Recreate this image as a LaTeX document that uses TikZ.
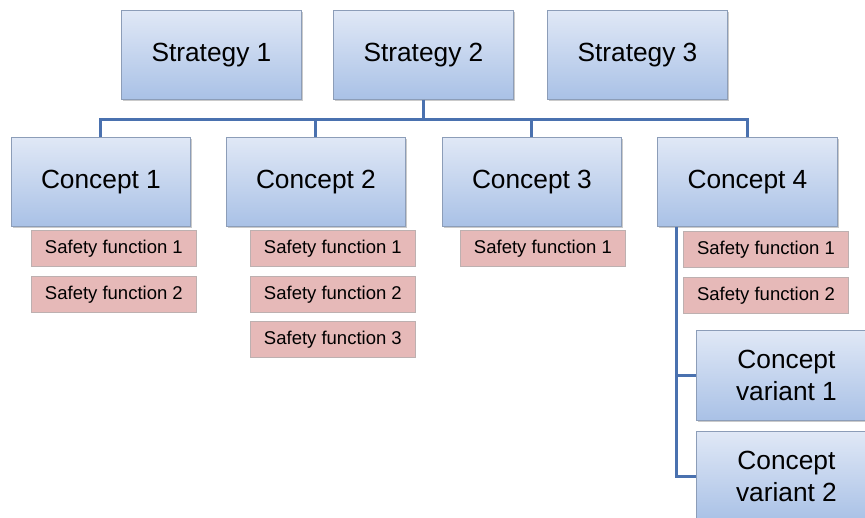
\documentclass[tikz,border=0pt]{standalone}
\usepackage{fontspec}
\setmainfont{Liberation Sans}
\usetikzlibrary{shadows}
\definecolor{boxtop}{HTML}{E0E8F6}
\definecolor{boxbot}{HTML}{A9C1E6}
\definecolor{boxedge}{HTML}{8C9DB8}
\definecolor{sffill}{HTML}{E6B9B8}
\definecolor{sfedge}{HTML}{BDB0B0}
\definecolor{linkblue}{HTML}{4A71AF}
\tikzset{
  bluebox/.style={draw=boxedge, line width=0.9pt, top color=boxtop, bottom color=boxbot,
    minimum width=180pt, minimum height=89pt, inner sep=0pt, anchor=north west,
    font=\fontsize{26.3}{32.5}\selectfont, align=center,
    drop shadow={shadow xshift=2pt, shadow yshift=-2pt, opacity=0.35, fill=black!60}},
  sfbox/.style={draw=sfedge, line width=0.8pt, fill=sffill,
    minimum width=165pt, minimum height=36pt, inner sep=0pt, anchor=north west,
    font=\fontsize{18.5}{21}\selectfont},
  link/.style={draw=linkblue, line width=3pt}
}
\begin{document}
\begin{tikzpicture}[x=1pt,y=-1pt]
\useasboundingbox (0,0) rectangle (865,517);
\clip (0,0) rectangle (865,517);

% strategies
\node[bluebox] (s1) at (121,10) {Strategy 1};
\node[bluebox] (s2) at (333,10) {Strategy 2};
\node[bluebox] (s3) at (547,10) {Strategy 3};

% concepts
\node[bluebox, minimum width=179pt] (c1) at (11,137) {Concept 1};
\node[bluebox, minimum width=179pt] (c2) at (226,137) {Concept 2};
\node[bluebox, minimum width=179pt] (c3) at (442,137) {Concept 3};
\node[bluebox] (c4) at (657,137) {Concept 4};

% bus between strategies and concepts
\coordinate (bus) at (0,119);
\draw[link] (s2.south) -- (s2.south |- bus);
\draw[link] (c1.north) -- (c1.north |- bus) -- (c4.north |- bus) -- (c4.north);
\draw[link] (c2.north) -- (c2.north |- bus);
\draw[link] (c3.north) -- (c3.north |- bus);

% safety functions
\node[sfbox] (c1a) at (31,230) {Safety function 1};
\node[sfbox] (c1b) at (31,276) {Safety function 2};
\node[sfbox] (c2a) at (250,230) {Safety function 1};
\node[sfbox] (c2b) at (250,276) {Safety function 2};
\node[sfbox] (c2c) at (250,321) {Safety function 3};
\node[sfbox] (c3a) at (460,230) {Safety function 1};
\node[sfbox] (c4a) at (683,231) {Safety function 1};
\node[sfbox] (c4b) at (683,277) {Safety function 2};

% concept variants
\node[bluebox, minimum height=90pt] (v1) at (696,330) {Concept\\variant 1};
\node[bluebox, minimum height=90pt] (v2) at (696,431) {Concept\\variant 2};

% branch from concept 4 to its variants
\coordinate (trunk) at ([xshift=19pt]c4.south west);
\draw[link] (trunk) -- (trunk |- v2.west) -- (v2.west);
\draw[link] (trunk |- v1.west) -- (v1.west);
\end{tikzpicture}
\end{document}
